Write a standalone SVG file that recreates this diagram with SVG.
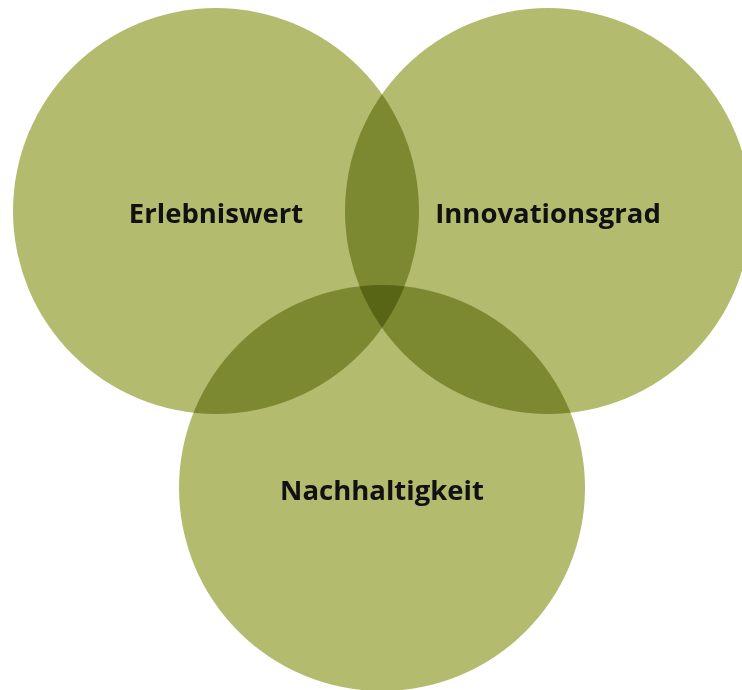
<svg xmlns="http://www.w3.org/2000/svg" width="742" height="690" viewBox="0 0 742 690">
<style>
.c{fill:#b2bb6e;mix-blend-mode:multiply}
.t{font-family:"Open Sans","Noto Sans",sans-serif;font-weight:bold;font-size:27.5px;fill:#111;text-anchor:middle}
</style>
<rect width="742" height="690" fill="#fff"/>
<g id="circles">
<g id="erlebniswert"><circle class="c" cx="216" cy="211" r="203"/></g>
<g id="innovationsgrad"><circle class="c" cx="548" cy="211" r="203"/></g>
<g id="nachhaltigkeit"><circle class="c" cx="382" cy="488" r="203"/></g>
</g>
<g id="connectors"/>
<g id="labels">
<text class="t" x="216" y="223">Erlebniswert</text>
<text class="t" x="548" y="223">Innovationsgrad</text>
<text class="t" x="382" y="500">Nachhaltigkeit</text>
</g>
</svg>
